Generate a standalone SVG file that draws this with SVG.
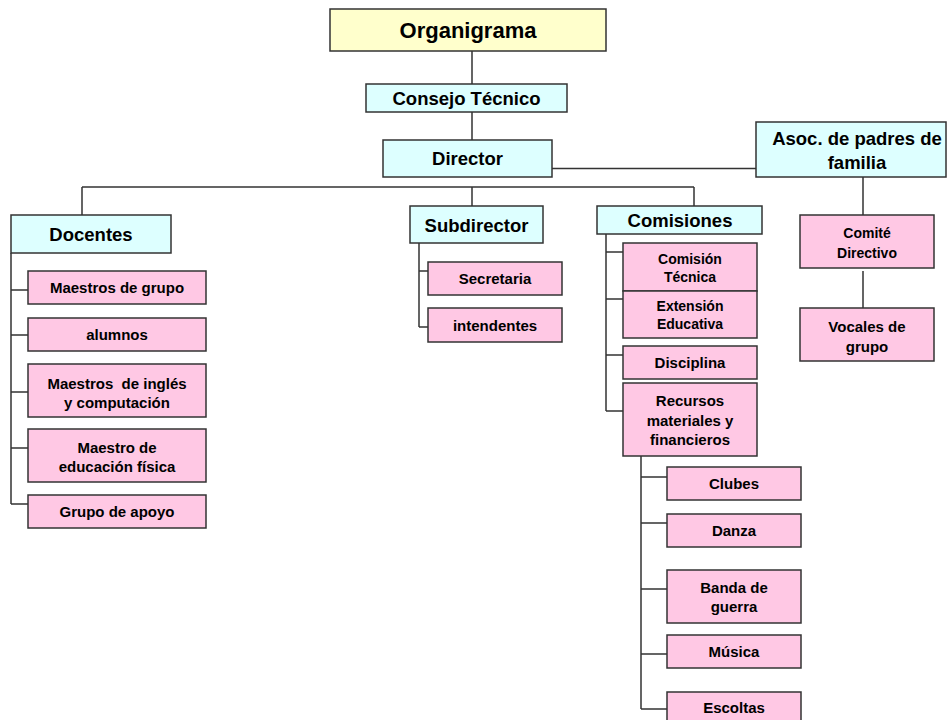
<svg xmlns="http://www.w3.org/2000/svg" width="948" height="720" viewBox="0 0 948 720">
<style>
text{font-family:"Liberation Sans",Arial,sans-serif;font-weight:bold;fill:#000;text-anchor:middle}
.y{fill:#FFFFCC;stroke:#333;stroke-width:1.5}
.c{fill:#DDFFFF;stroke:#333;stroke-width:1.5}
.p{fill:#FFC8E4;stroke:#333;stroke-width:1.5}
.t22{font-size:22px}.t19{font-size:18.5px}.t15{font-size:15px}.t14{font-size:14px}
#connectors path{fill:none;stroke:#333;stroke-width:1.5}
</style>
<rect width="948" height="720" fill="#fff"/>
<g id="connectors">
<path d="M472,51V84M472,112V140M552,168.5H756M82,187H694M82,187V215M472,187V206M694,187V206"/>
<path d="M11,253V504M11,290H28M11,335H28M11,392H28M11,448H28M11,504H28"/>
<path d="M419,243V327M419,271H428M419,327H428"/>
<path d="M606,234V411M606,252H623M606,299H623M606,355H623M606,411H623"/>
<path d="M641,456V709M641,477H667M641,523H667M641,589H667M641,654H667M641,709H667"/>
<path d="M863,177V215M863,271V308"/>
</g>
<g id="organigrama"><rect class="y" x="330" y="9" width="276" height="42"/><text class="t22" x="468" y="38">Organigrama</text></g>
<g id="consejo"><rect class="c" x="366" y="84" width="201" height="28"/><text class="t19" x="466.5" y="104.5">Consejo Técnico</text></g>
<g id="director"><rect class="c" x="383" y="140" width="169" height="37"/><text class="t19" x="467.5" y="165">Director</text></g>
<g id="asoc"><rect class="c" x="756" y="122" width="190" height="55"/><text class="t19" x="857" y="145">Asoc. de padres de</text><text class="t19" x="857" y="169">familia</text></g>
<g id="docentes"><rect class="c" x="11" y="215" width="160" height="38"/><text class="t19" x="91" y="241">Docentes</text></g>
<g id="subdirector"><rect class="c" x="410" y="206" width="133" height="37"/><text class="t19" x="476.5" y="231.5">Subdirector</text></g>
<g id="comisiones"><rect class="c" x="597" y="206" width="165" height="28"/><text class="t19" x="680" y="227">Comisiones</text></g>
<g id="maestros-grupo"><rect class="p" x="28" y="271" width="178" height="33"/><text class="t15" x="117" y="293">Maestros de grupo</text></g>
<g id="alumnos"><rect class="p" x="28" y="318" width="178" height="33"/><text class="t15" x="117" y="340">alumnos</text></g>
<g id="maestros-ingles"><rect class="p" x="28" y="364" width="178" height="53"/><text class="t15" x="117" y="388.5" xml:space="preserve">Maestros  de inglés</text><text class="t15" x="117" y="407.5">y computación</text></g>
<g id="maestro-ef"><rect class="p" x="28" y="429" width="178" height="53"/><text class="t15" x="117" y="453">Maestro de</text><text class="t15" x="117" y="472">educación física</text></g>
<g id="grupo-apoyo"><rect class="p" x="28" y="495" width="178" height="33"/><text class="t15" x="117" y="517">Grupo de apoyo</text></g>
<g id="secretaria"><rect class="p" x="428" y="262" width="134" height="33"/><text class="t15" x="495" y="284">Secretaria</text></g>
<g id="intendentes"><rect class="p" x="428" y="308" width="134" height="34"/><text class="t15" x="495" y="330.5">intendentes</text></g>
<g id="comision-tecnica"><rect class="p" x="623" y="243" width="134" height="48"/><text class="t14" x="690" y="264">Comisión</text><text class="t14" x="690" y="282">Técnica</text></g>
<g id="extension"><rect class="p" x="623" y="291" width="134" height="47"/><text class="t14" x="690" y="311">Extensión</text><text class="t14" x="690" y="329">Educativa</text></g>
<g id="disciplina"><rect class="p" x="623" y="346" width="134" height="33"/><text class="t15" x="690" y="368">Disciplina</text></g>
<g id="recursos"><rect class="p" x="623" y="383" width="134" height="73"/><text class="t15" x="690" y="406">Recursos</text><text class="t15" x="690" y="425.5">materiales y</text><text class="t15" x="690" y="445">financieros</text></g>
<g id="clubes"><rect class="p" x="667" y="467" width="134" height="33"/><text class="t15" x="734" y="489">Clubes</text></g>
<g id="danza"><rect class="p" x="667" y="514" width="134" height="33"/><text class="t15" x="734" y="536">Danza</text></g>
<g id="banda"><rect class="p" x="667" y="570" width="134" height="53"/><text class="t15" x="734" y="593">Banda de</text><text class="t15" x="734" y="612">guerra</text></g>
<g id="musica"><rect class="p" x="667" y="635" width="134" height="33"/><text class="t15" x="734" y="657">Música</text></g>
<g id="escoltas"><rect class="p" x="667" y="692" width="134" height="34"/><text class="t15" x="734" y="713">Escoltas</text></g>
<g id="comite"><rect class="p" x="800" y="215" width="134" height="53"/><text class="t14" x="867" y="238">Comité</text><text class="t14" x="867" y="258">Directivo</text></g>
<g id="vocales"><rect class="p" x="800" y="308" width="134" height="53"/><text class="t15" x="867" y="332">Vocales de</text><text class="t15" x="867" y="351.5">grupo</text></g>
</svg>
